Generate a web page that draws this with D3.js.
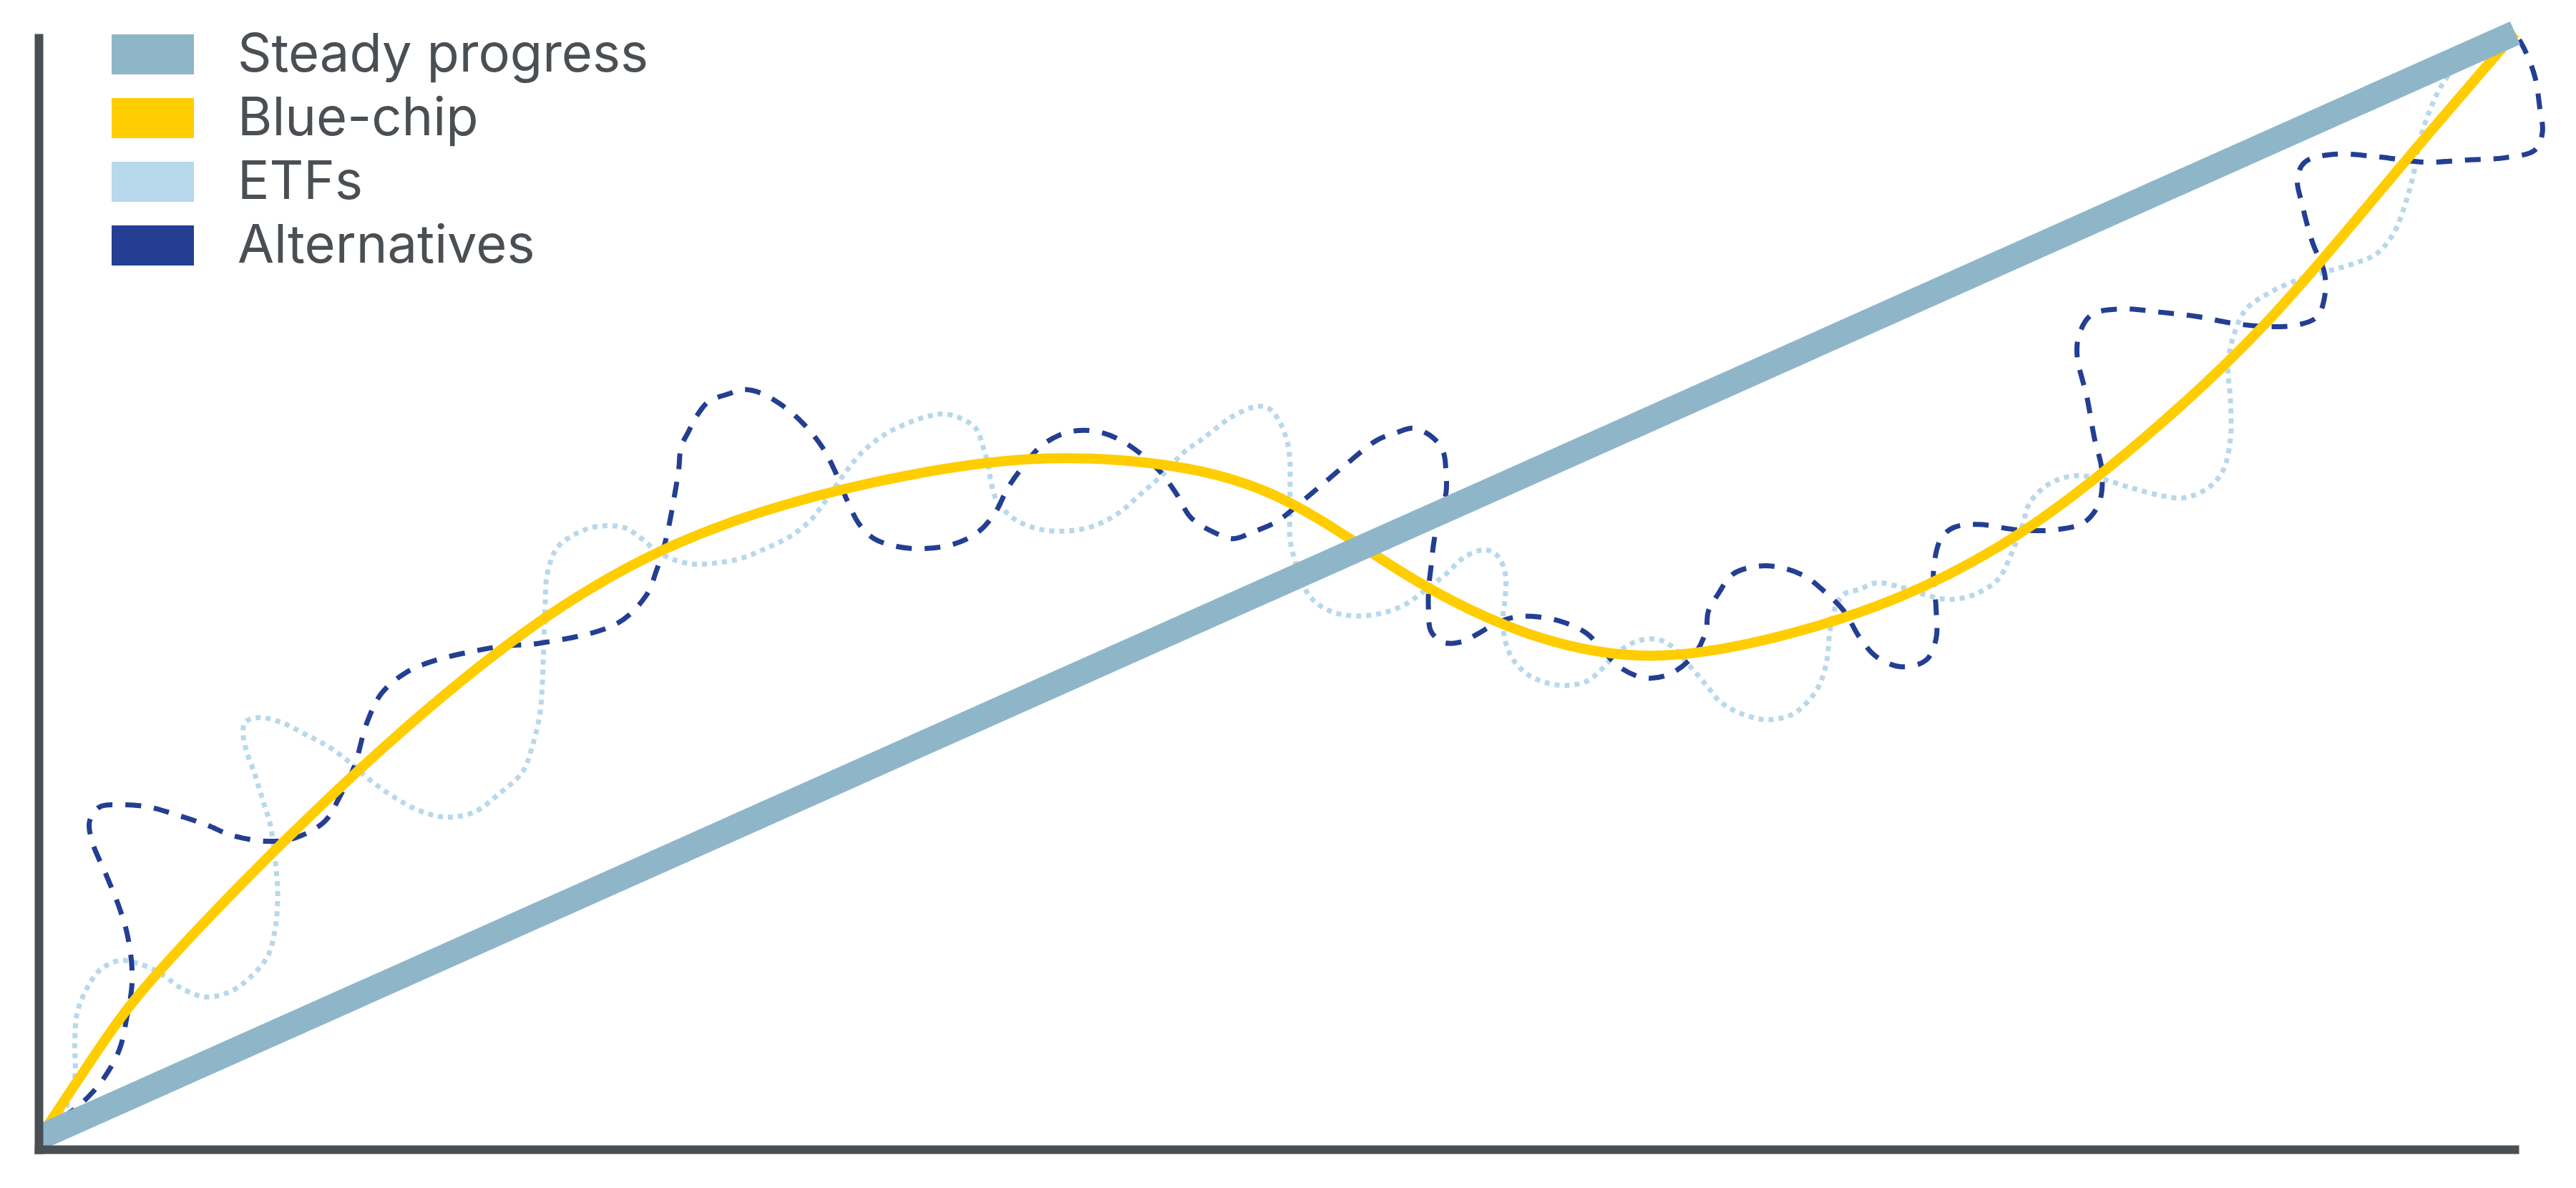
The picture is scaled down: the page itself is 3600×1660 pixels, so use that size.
<!DOCTYPE html>
<html>
<head>
<meta charset="utf-8">
<script src="https://cdn.jsdelivr.net/npm/d3@7"></script>
<style>
  body { margin: 0; background: #fff; }
</style>
</head>
<body>
<script>
// series (x and y both on a 0..100 scale)
const seriesNames = ["Steady progress", "Blue-chip", "ETFs", "Alternatives"]

const steady = [[0, 0], [100, 100]]

const blueChip = [
  [0, 0], [2.5, 8.4], [5, 15.5], [10, 27.1], [15, 37.5], [20, 46.4], [25, 53.0],
  [30, 57.2], [35, 59.9], [40, 61.4], [45, 61.0], [50, 58.0], [55, 51.2], [60, 45.7],
  [65, 43.6], [70, 45.2], [75, 48.8], [80, 54.7], [85, 63.3], [90, 73.9], [95, 86.9],
  [100, 100]
]

const etfs = [
  [0, 0], [1.0, 2.5], [1.4, 5.4], [1.4, 8.6], [1.5, 11.3], [1.9, 13.5], [2.4, 15.1],
  [3.2, 16.0], [4.0, 15.7], [4.9, 14.8], [5.7, 13.5], [6.7, 12.7], [7.7, 13.2], [8.5, 14.5],
  [9.2, 16.4], [9.5, 18.9], [9.6, 22.0], [9.5, 25.1], [9.3, 28.3], [9.0, 30.5], [8.7, 32.7],
  [8.3, 35.3], [8.2, 36.8], [8.3, 37.6], [8.8, 38.0], [9.7, 37.6], [10.7, 36.5], [11.7, 35.3],
  [12.7, 33.6], [13.3, 32.4], [14.3, 30.8], [15.3, 29.6], [16.3, 29.0], [17.5, 29.4],
  [18.6, 31.2], [19.5, 33.1], [19.9, 35.5], [20.2, 38.4], [20.3, 41.5], [20.4, 47.9],
  [20.5, 51.1], [20.9, 53.4], [21.7, 54.7], [22.5, 55.3], [23.6, 55.2], [24.3, 54.2],
  [24.9, 53.1], [25.6, 52.3], [26.4, 51.9], [27.3, 52.0], [28.3, 52.4], [29.3, 53.3],
  [30.3, 54.4], [31.1, 55.8], [31.6, 57.2], [32.1, 58.8], [32.6, 60.4], [33.2, 62.0],
  [34.1, 63.6], [35.1, 64.7], [35.9, 65.3], [36.5, 65.5], [37.2, 65.1], [37.8, 64.2],
  [38.1, 62.5], [38.3, 60.9], [38.4, 59.6], [38.6, 57.9], [38.9, 56.9], [39.5, 55.8],
  [40.5, 55.0], [41.5, 54.9], [42.5, 55.3], [43.5, 56.4], [44.5, 58.3], [45.4, 60.1],
  [46.2, 62.0], [47.0, 63.3], [47.8, 64.7], [48.2, 65.3], [49.2, 66.2], [49.7, 65.9],
  [50.1, 64.7], [50.4, 62.9], [50.5, 61.1], [50.5, 58.8], [50.5, 56.5], [50.5, 54.2],
  [50.7, 52.2], [51.0, 50.1], [51.5, 48.5], [52.3, 47.5], [53.3, 47.2], [54.3, 47.5],
  [55.2, 48.3], [56.0, 49.6], [56.8, 51.0], [57.6, 52.6], [58.4, 53.2], [58.9, 52.6],
  [59.2, 51.0], [59.2, 49.0], [59.1, 46.9], [59.2, 44.9], [59.5, 43.3], [60.1, 41.9],
  [60.8, 41.2], [61.6, 40.9], [62.5, 41.3], [63.1, 42.4], [63.8, 44.0], [64.5, 44.9],
  [65.3, 45.1], [65.9, 44.5], [66.6, 42.8], [67.3, 41.0], [67.9, 39.4], [68.8, 38.3],
  [69.8, 37.8], [70.8, 38.3], [71.4, 39.4], [71.9, 41.0], [72.2, 43.3], [72.3, 45.6],
  [72.5, 47.8], [72.9, 49.2], [73.5, 49.6], [74.2, 50.2], [75.2, 49.8], [76.2, 49.1],
  [77.1, 48.7], [78.1, 49.1], [79.1, 50.5], [79.6, 52.6], [80.1, 55.5], [80.4, 57.5],
  [81.2, 59.2], [82.2, 59.9], [83.3, 59.6], [84.5, 58.8], [85.7, 58.1], [86.6, 57.9],
  [87.6, 58.8], [88.2, 60.4], [88.5, 63.3], [88.5, 66.6], [88.4, 69.9], [88.6, 72.4],
  [89.1, 74.9], [90.1, 76.5], [91.3, 77.7], [92.4, 78.4], [93.6, 79.2], [94.4, 80.0],
  [95.1, 81.9], [95.6, 84.8], [95.9, 87.3], [96.1, 89.8], [96.5, 92.7], [97.1, 95.5],
  [97.9, 97.6], [98.8, 98.8], [100, 100]
]

const alternatives = [
  [0, 0], [1.0, 1.9], [1.6, 2.9], [2.5, 5.1], [3.2, 7.9], [3.5, 10.8], [3.7, 13.5],
  [3.7, 15.7], [3.5, 18.6], [3.2, 20.8], [2.7, 23.6], [2.1, 26.8], [2.0, 28.6], [2.4, 29.9],
  [3.2, 30.1], [4.4, 29.9], [5.5, 29.2], [6.7, 28.3], [7.8, 27.3], [9.2, 26.8], [10.3, 27.1],
  [11.5, 28.6], [12.1, 30.8], [12.7, 33.6], [13.2, 37.5], [13.8, 40.2], [14.8, 42.1],
  [16.0, 43.2], [17.5, 44.0], [18.8, 44.5], [20.1, 44.7], [23.3, 46.5], [24.5, 49.1],
  [24.9, 51.3], [25.2, 53.4], [25.4, 55.3], [25.6, 57.7], [25.8, 60.4], [25.9, 62.5],
  [26.2, 63.9], [26.5, 65.2], [27.0, 66.6], [27.8, 67.3], [28.4, 67.7], [29.1, 67.4],
  [29.9, 66.4], [30.8, 64.7], [31.6, 62.5], [32.1, 60.4], [32.6, 57.7], [33.1, 55.5],
  [33.7, 54.2], [34.6, 53.5], [35.7, 53.3], [36.9, 53.7], [37.9, 54.8], [38.6, 56.6],
  [39.1, 58.8], [39.7, 60.7], [40.4, 62.5], [41.2, 63.6], [42.0, 64.0], [42.9, 63.8],
  [43.9, 62.8], [45.2, 60.4], [45.9, 58.3], [46.5, 56.1], [47.4, 54.8], [48.2, 54.2],
  [49.0, 54.8], [50.0, 55.8], [51.0, 57.6], [51.8, 59.1], [52.8, 61.0], [54.0, 63.1],
  [54.8, 63.8], [55.5, 64.2], [56.3, 63.3], [56.7, 62.0], [56.8, 60.3], [56.8, 58.3],
  [56.5, 56.1], [56.3, 53.7], [56.2, 51.7], [56.1, 49.6], [56.1, 47.6], [56.2, 45.8],
  [56.7, 44.8], [57.5, 44.9], [58.1, 45.6], [58.8, 46.5], [59.6, 47.1], [60.6, 47.1],
  [61.6, 46.6], [62.5, 45.6], [63.1, 44.2], [63.8, 42.6], [64.8, 41.6], [65.8, 41.9],
  [66.8, 43.6], [67.3, 45.8], [67.4, 47.6], [67.8, 49.2], [68.4, 51.0], [69.4, 51.7],
  [70.3, 51.6], [71.3, 50.8], [72.1, 49.4], [72.9, 47.6], [73.5, 45.3], [74.2, 43.5],
  [75.2, 42.6], [76.2, 43.2], [76.6, 45.1], [76.6, 48.0], [76.5, 51.3], [76.8, 54.2],
  [77.3, 55.2], [78.3, 55.5], [79.9, 55.0], [81.4, 55.0], [82.6, 55.7], [83.2, 57.5],
  [83.3, 60.4], [83.0, 63.3], [82.7, 67.0], [82.3, 70.8], [82.4, 72.8], [82.9, 74.5],
  [84.1, 75.0], [85.7, 74.7], [87.2, 74.3], [88.6, 73.7], [90.1, 73.4], [91.3, 73.6],
  [92.0, 74.3], [92.3, 76.1], [92.3, 78.2], [91.8, 81.1], [91.4, 84.4], [91.2, 86.8],
  [91.5, 88.3], [92.6, 89.0], [94.4, 88.8], [96.3, 88.3], [98.1, 88.5], [99.6, 88.7],
  [100.8, 89.4], [101.1, 91.0], [101.0, 93.1], [100.8, 96.0], [100.4, 98.4], [100, 100]
]

const colors = ["#8fb6c8", "#ffcd00", "#b8d8eb", "#233e92"]
const axisColor = "#4a4f54"

width = 3600
height = 1660

let x = d3.scaleLinear([0, 100], [56, 3515])
let y = d3.scaleLinear([0, 100], [1589, 46])

let svg = d3.select("body").append("svg")
    .attr("width", width)
    .attr("height", height)
    .attr("viewBox", [0, 0, width, height])
    .style("display", "block")
    .style("background", "#fff")

let line = d3.line()
    .x(d => x(d[0]))
    .y(d => y(d[1]))

let smooth = d3.line()
    .x(d => x(d[0]))
    .y(d => y(d[1]))
    .curve(d3.curveCatmullRom.alpha(0.5))

// drawn back to front, the thick straight line ends up on top
svg.append("path")
    .datum(etfs)
    .attr("fill", "none")
    .attr("stroke", colors[2])
    .attr("stroke-width", 7)
    .attr("stroke-dasharray", "7,7")
    .attr("d", smooth)

svg.append("path")
    .datum(alternatives)
    .attr("fill", "none")
    .attr("stroke", colors[3])
    .attr("stroke-width", 7)
    .attr("stroke-dasharray", "22,18")
    .attr("d", smooth)

svg.append("path")
    .datum(blueChip)
    .attr("fill", "none")
    .attr("stroke", colors[1])
    .attr("stroke-width", 14)
    .attr("d", line.curve(d3.curveNatural))

svg.append("path")
    .datum(steady)
    .attr("fill", "none")
    .attr("stroke", colors[0])
    .attr("stroke-width", 35)
    .attr("d", d3.line().x(d => x(d[0])).y(d => y(d[1])))

// axes, no ticks, just the two thick lines
let xAxisScale = d3.scaleLinear([0, 1], [48, 3520])
let yAxisScale = d3.scaleLinear([0, 1], [1612, 47])

svg.append("g")
    .attr("transform", "translate(0,1606)")
    .call(d3.axisBottom(xAxisScale).ticks(0).tickSizeOuter(0))
    .call(g => g.select(".domain").attr("stroke", axisColor).attr("stroke-width", 12))

svg.append("g")
    .attr("transform", "translate(54,0)")
    .call(d3.axisLeft(yAxisScale).ticks(0).tickSizeOuter(0))
    .call(g => g.select(".domain").attr("stroke", axisColor).attr("stroke-width", 12))

// legend
let legend = svg.append("g")
    .selectAll("g")
    .data(seriesNames)
    .join("g")
    .attr("transform", (d, i) => `translate(156,${48 + i * 89})`)

legend.append("rect")
    .attr("width", 115)
    .attr("height", 56)
    .attr("fill", (d, i) => colors[i])

legend.append("text")
    .attr("x", 176)
    .attr("y", 52)
    .attr("font-family", "Inter, 'Noto Sans', sans-serif")
    .attr("font-size", 74)
    .attr("fill", axisColor)
    .text(d => d)
</script>
</body>
</html>
